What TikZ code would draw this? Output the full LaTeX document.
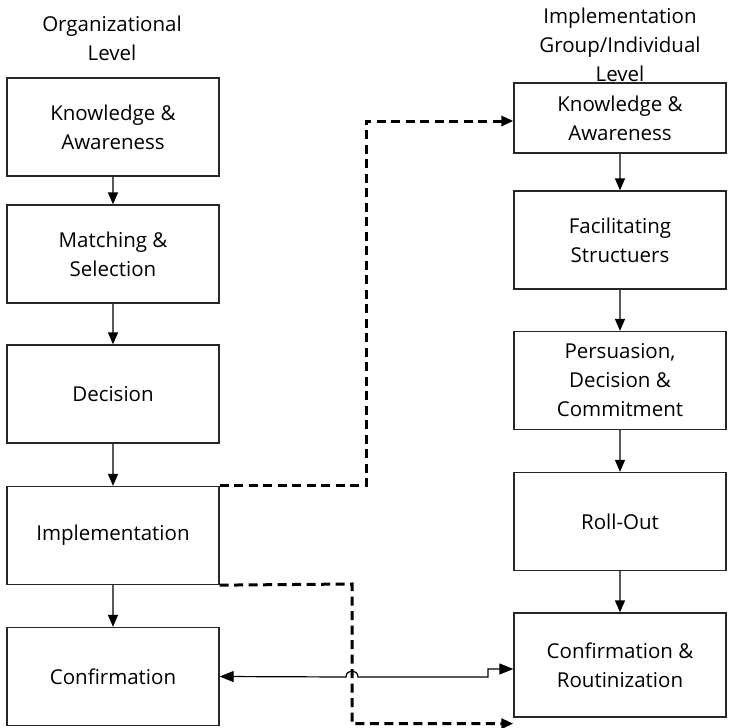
\documentclass[tikz,border=0pt]{standalone}
\usepackage{fontspec}
\setmainfont{Open Sans}
\usetikzlibrary{arrows.meta}
\begin{document}
\begin{tikzpicture}[x=1pt,y=-1pt,
  stage/.style={draw=black!85,line width=1.3pt,minimum width=212pt,minimum height=98pt,inner sep=2pt,align=center,font=\fontsize{20.5}{29}\selectfont},
  heading/.style={align=center,font=\fontsize{20.5}{29}\selectfont},
  flow/.style={draw=black!65,line width=1.4pt,-{Triangle[length=12pt,width=10pt,black]}},
  link/.style={line width=3pt,dash pattern=on 9pt off 5.5pt,-{Triangle[length=12pt,width=10pt]}},
  both/.style={line width=1.2pt,{Triangle[length=14pt,width=11pt]}-{Triangle[length=14pt,width=11pt]}}]
\useasboundingbox (0,0) rectangle (729,728);
% organizational level
\node[heading] (orgtitle) at (112,38) {Organizational\\Level};
\node[stage] (ka1) at (113,127) {Knowledge \&\\Awareness};
\node[stage] (ms) at (113,254) {Matching \&\\Selection};
\node[stage] (dec) at (113,394) {Decision};
\node[stage] (impl) at (113,535.5) {Implementation};
\node[stage] (conf) at (113,676.5) {Confirmation};
% group/individual level
\node[heading] (grptitle) at (620,45) {Implementation\\Group/Individual\\Level};
\node[stage,minimum height=70pt] (ka2) at (620,118) {Knowledge \&\\Awareness};
\node[stage] (fs) at (620,240) {Facilitating\\Structuers};
\node[stage] (pdc) at (620,380.5) {Persuasion,\\Decision \&\\Commitment};
\node[stage] (ro) at (620,521.5) {Roll-Out};
\node[stage,minimum height=104pt] (cr) at (620,665) {Confirmation \&\\Routinization};
% vertical flow
\draw[flow] (ka1) -- (ms);
\draw[flow] (ms) -- (dec);
\draw[flow] (dec) -- (impl);
\draw[flow] (impl) -- (conf);
\draw[flow] (ka2) -- (fs);
\draw[flow] (fs) -- (pdc);
\draw[flow] (pdc) -- (ro);
\draw[flow] (ro) -- (cr);
% cross links
\coordinate (up) at (366,121);
\coordinate (down) at (352,584);
\coordinate (crlow) at ([yshift=-6pt]cr.south west);
\coordinate (crin) at ([yshift=-4pt]cr.west);
\draw[link] (impl.north east) -| (up) -- (up -| ka2.west);
\draw[link] (impl.south east) -- (down) |- (crlow);
\draw[both] (conf.east) -- (346,677) .. controls (346,669) and (358,669) .. (358,677)
  -- (488,677) -- (488,669) -- (crin);
\end{tikzpicture}
\end{document}
